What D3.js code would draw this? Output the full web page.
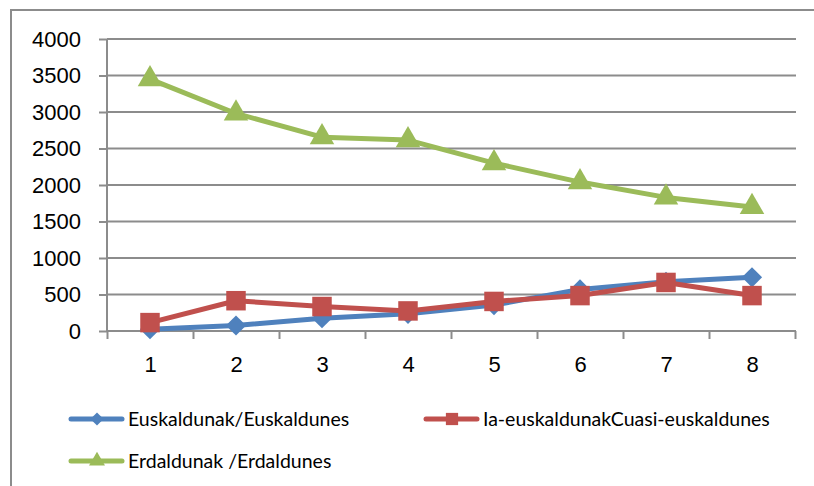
<!DOCTYPE html>
<html>
<head>
<meta charset="utf-8">
<script src="https://cdn.jsdelivr.net/npm/d3@7"></script>
<style>
  body { margin: 0; background: #fff; }
  svg { display: block; font-family: Lato, "Open Sans", sans-serif; }
</style>
</head>
<body>
<div id="chart"></div>
<script>
const width = 814;
const height = 486;
const margin = {left: 107, right: 18, top: 39, bottom: 155};

const categories = [1, 2, 3, 4, 5, 6, 7, 8];
const yTicks = [0, 500, 1000, 1500, 2000, 2500, 3000, 3500, 4000];

const euskaldunak = [25, 75, 175, 235, 355, 570, 675, 735];
const iaEuskaldunak = [115, 415, 335, 275, 405, 485, 665, 485];
const erdaldunak = [3450, 2980, 2655, 2615, 2300, 2040, 1830, 1700];

const seriesNames = ['Euskaldunak/Euskaldunes', 'Ia-euskaldunakCuasi-euskaldunes', 'Erdaldunak /Erdaldunes'];
const seriesColors = ['#4f81bd', '#c0504d', '#9bbb59'];
const seriesShapes = [d3.symbolDiamond2, d3.symbolSquare, d3.symbolTriangle];

const series = [euskaldunak, iaEuskaldunak, erdaldunak].map((vals, i) => ({
  name: seriesNames[i], color: seriesColors[i], shape: seriesShapes[i],
  values: vals.map((v, j) => ({cat: categories[j], value: v}))
}));

const svg = d3.select('#chart').append('svg')
  .attr('width', width)
  .attr('height', height);

// outer chart border (runs off the right and bottom of the picture)
svg.append('rect')
  .attr('x', 11).attr('y', 10)
  .attr('width', 820).attr('height', 500)
  .attr('fill', 'none')
  .attr('stroke', '#8c8c8c')
  .attr('stroke-width', 2);

const x = d3.scaleLinear()
  .domain([0.5, categories.length + 0.5])
  .range([margin.left, width - margin.right - 1]);

const y = d3.scaleLinear()
  .domain([0, 4000])
  .range([height - margin.bottom, margin.top]);

// gridlines
svg.append('g')
  .selectAll('line')
  .data(yTicks.filter(d => d > 0))
  .join('line')
  .attr('x1', margin.left).attr('x2', x.range()[1] + 1)
  .attr('y1', d => y(d)).attr('y2', d => y(d))
  .attr('stroke', '#8c8c8c')
  .attr('stroke-width', 2);

// y axis
const yAxis = d3.axisLeft(y).tickValues(yTicks).tickSize(8).tickPadding(18).tickFormat(d3.format('d'));
const gy = svg.append('g')
  .attr('transform', 'translate(' + margin.left + ',0)')
  .call(yAxis);
gy.selectAll('line, path').attr('stroke', '#8c8c8c').attr('stroke-width', 2);
gy.select('.domain').attr('d', 'M0,' + y(4000) + 'V' + y(0));
gy.selectAll('text').style('font-size', '22px').attr('fill', '#000');

// x axis: tick marks at category boundaries, labels at centers
const gx = svg.append('g')
  .attr('transform', 'translate(0,' + y(0) + ')');
gx.call(d3.axisBottom(x)
  .tickValues(d3.range(0.5, categories.length + 1, 1))
  .tickSize(8)
  .tickFormat(''));
gx.selectAll('line, path').attr('stroke', '#8c8c8c').attr('stroke-width', 2);
gx.select('.domain').attr('d', 'M' + x.range()[0] + ',0H' + (x.range()[1] + 1));

const gxl = svg.append('g')
  .attr('transform', 'translate(0,' + y(0) + ')')
  .call(d3.axisBottom(x).tickValues(categories).tickSize(0).tickPadding(25).tickFormat(d3.format('d')));
gxl.select('.domain').remove();
gxl.selectAll('text').style('font-size', '22px').attr('fill', '#000');

// lines and markers
const line = d3.line().x(d => x(d.cat)).y(d => y(d.value));

series.forEach(s => {
  svg.append('path')
    .datum(s.values)
    .attr('d', line)
    .attr('fill', 'none')
    .attr('stroke', s.color)
    .attr('stroke-width', 5)
    .attr('stroke-linejoin', 'round');
  svg.append('g')
    .selectAll('path')
    .data(s.values)
    .join('path')
    .attr('transform', d => 'translate(' + x(d.cat) + ',' + y(d.value) + ')')
    .attr('d', d3.symbol().type(s.shape).size(s.shape === d3.symbolSquare ? 380 : 260))
    .attr('fill', s.color);
});

// legend
const legendPos = [[69, 419], [424, 419], [69, 461]];
const legend = svg.append('g')
  .selectAll('g')
  .data(series)
  .join('g')
  .attr('transform', (d, i) => 'translate(' + legendPos[i][0] + ',' + legendPos[i][1] + ')');

legend.append('line')
  .attr('x1', 2).attr('x2', 53)
  .attr('stroke', d => d.color)
  .attr('stroke-width', 5)
  .attr('stroke-linecap', 'round');
legend.append('path')
  .attr('transform', 'translate(28,0)')
  .attr('d', d => d3.symbol().type(d.shape).size(d.shape === d3.symbolSquare ? 150 : 110)())
  .attr('fill', d => d.color);
legend.append('text')
  .attr('x', 59)
  .attr('dy', '0.35em')
  .style('font-size', '19.5px')
  .attr('fill', '#000')
  .text(d => d.name);
</script>
</body>
</html>
